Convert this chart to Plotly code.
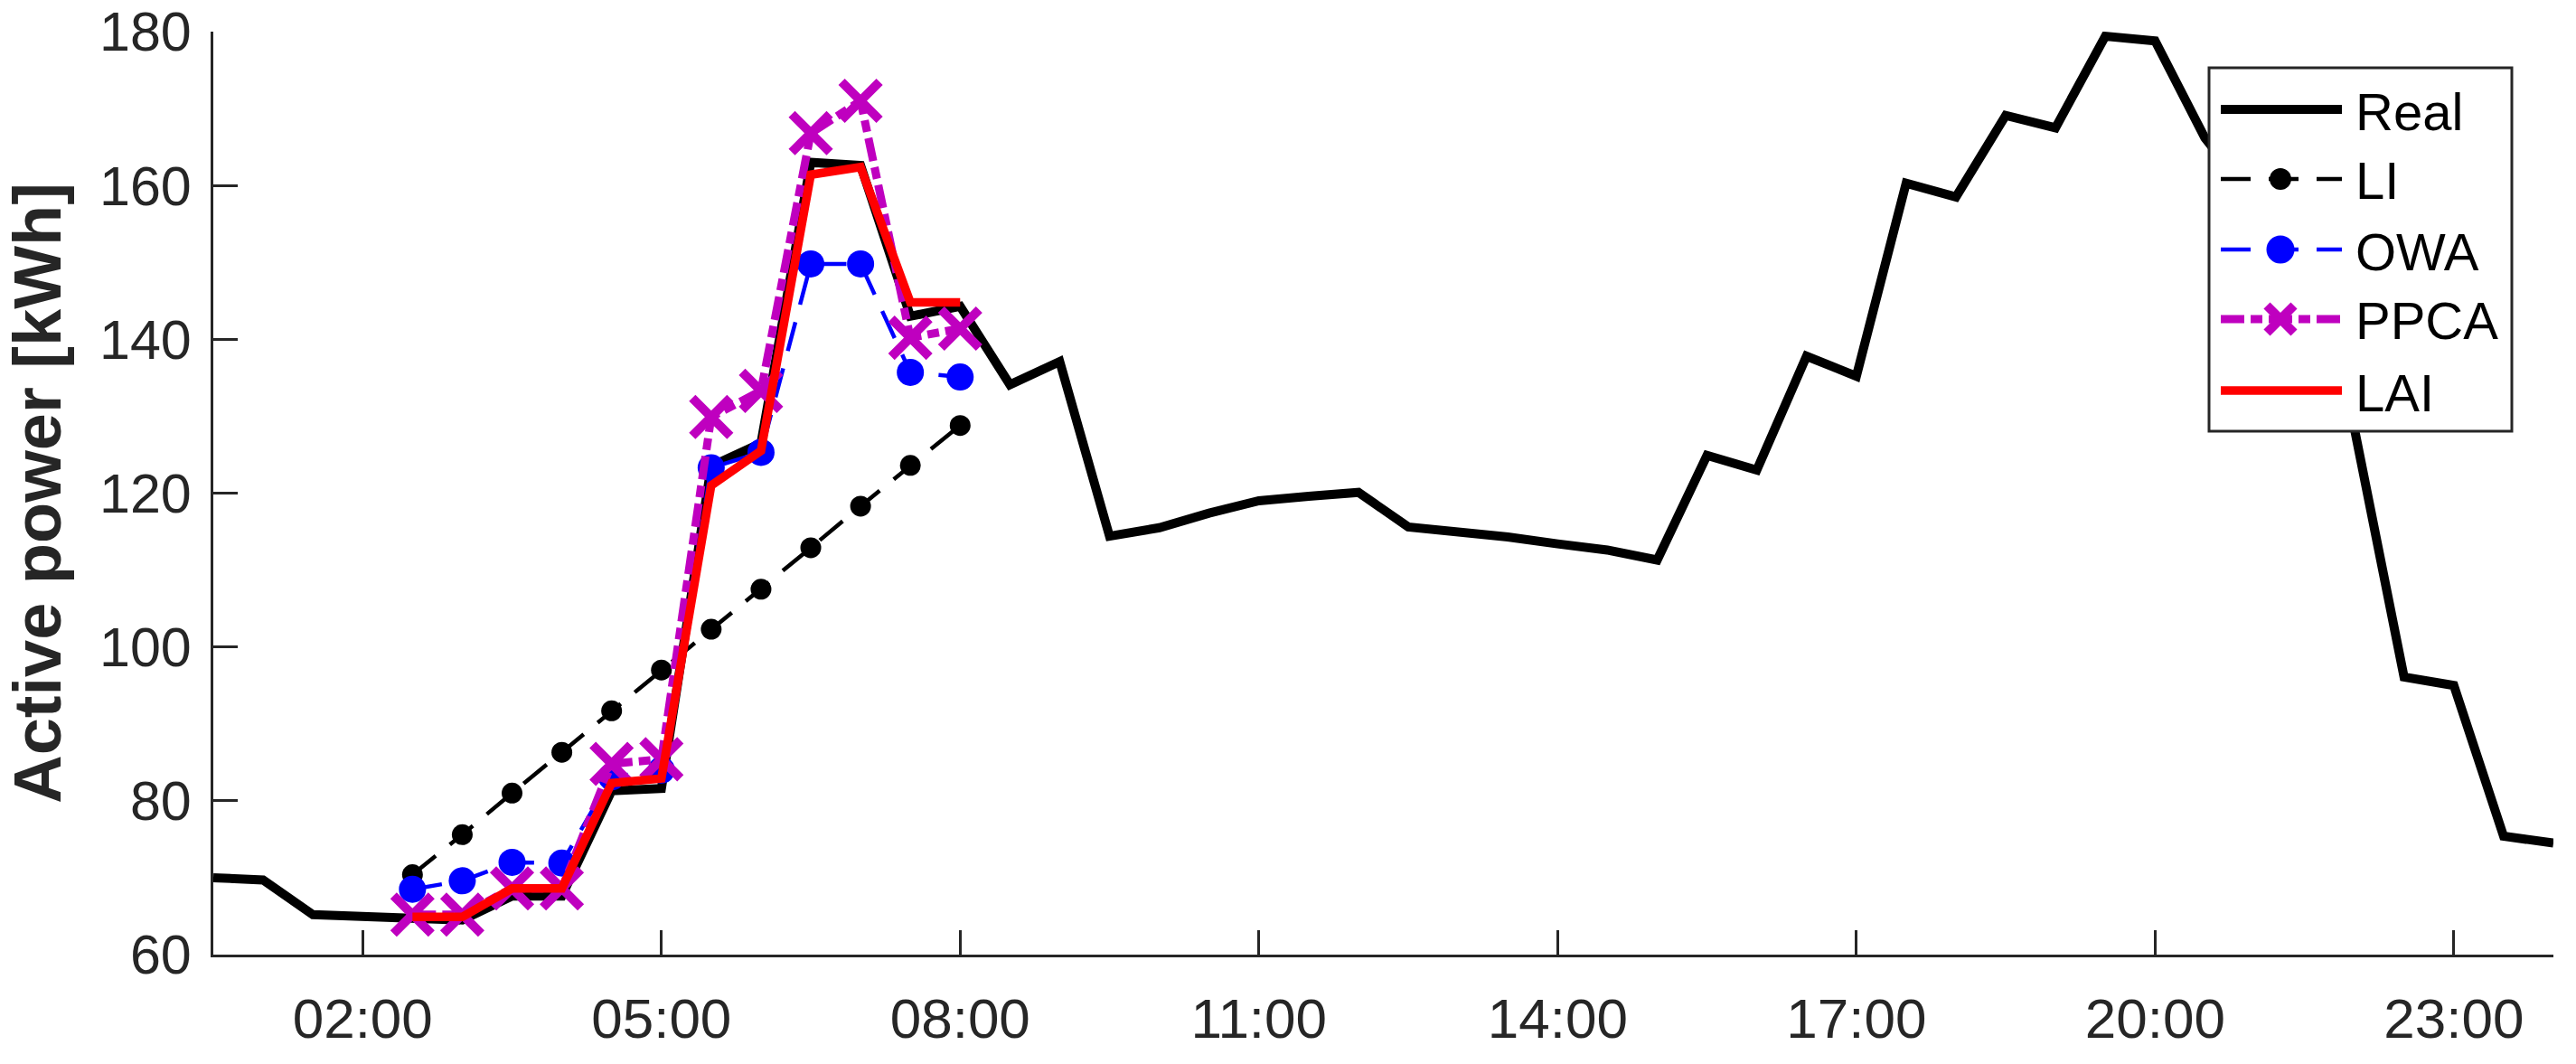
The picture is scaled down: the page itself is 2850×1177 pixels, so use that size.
import pandas as pd
import plotly.graph_objects as go

DAY = "2020-01-01"

# Half-hourly timestamps 00:30 .. 24:00 (48 values)
real_times = pd.date_range(f"{DAY} 00:30", periods=48, freq="30min")
real_values = [
    70.0, 69.7, 65.2, 64.9, 64.6, 64.5, 67.6, 67.6, 81.3, 81.6,
    123.5, 126.5, 163.0, 162.6, 143.0, 144.3, 134.1, 137.1, 114.4, 115.5,
    117.4, 119.0, 119.6, 120.1, 115.6, 115.0, 114.3, 113.4, 112.6, 111.3,
    124.9, 123.0, 137.8, 135.2, 160.3, 158.5, 169.1, 167.5, 179.4, 178.8,
    166.2, 158.0, 145.0, 128.5, 96.1, 95.0, 75.4, 74.5,
]

# Imputed gap 02:30 .. 08:00 (12 values)
gap_times = pd.date_range(f"{DAY} 02:30", periods=12, freq="30min")
li_values = [70.4, 75.6, 81.0, 86.3, 91.7, 97.0, 102.3, 107.5, 112.9, 118.3, 123.6, 128.8]
owa_values = [68.5, 69.6, 72.0, 71.9, 83.1, 84.0, 123.3, 125.3, 149.8, 149.8, 135.7, 135.1]
ppca_values = [65.2, 65.2, 68.6, 68.6, 84.8, 85.4, 129.9, 133.3, 166.8, 171.0, 140.2, 141.4]
lai_values = [64.9, 64.9, 68.6, 68.6, 82.3, 82.9, 121.0, 125.5, 161.4, 162.4, 144.8, 144.8]

series_names = ["Real", "LI", "OWA", "PPCA", "LAI"]
tick_labels = ["02:00", "05:00", "08:00", "11:00", "14:00", "17:00", "20:00", "23:00"]
y_ticks = [60, 80, 100, 120, 140, 160, 180]

FONT = "Liberation Sans, Arial, Helvetica, sans-serif"
AX = "#262626"
MAG = "#BF00BF"

W, H = 2850, 1177
ML, MR, MT, MB = 236, 25, 35, 121
PW, PH = W - ML - MR, H - MT - MB

styles = {
    "Real": dict(color="black", width=10, dash="solid", marker=None),
    "LI": dict(color="black", width=4.5, dash="33px,20px", marker=("circle", 24)),
    "OWA": dict(color="#0000FF", width=4.5, dash="33px,20px", marker=("circle", 31)),
    "PPCA": dict(color=MAG, width=9, dash="26px,7px,13px,7px", marker=("x", 38)),
    "LAI": dict(color="#FF0000", width=9.5, dash="solid", marker=None),
}

fig = go.Figure()
fig.add_trace(go.Scatter(
    x=real_times, y=real_values, name="Real", mode="lines",
    line=dict(color="black", width=10),
))
fig.add_trace(go.Scatter(
    x=gap_times, y=li_values, name="LI", mode="lines+markers",
    line=dict(color="black", width=4.5, dash="33px,20px"),
    marker=dict(symbol="circle", size=23, color="black"),
))
fig.add_trace(go.Scatter(
    x=gap_times, y=owa_values, name="OWA", mode="lines+markers",
    line=dict(color="#0000FF", width=4.5, dash="33px,20px"),
    marker=dict(symbol="circle", size=30, color="#0000FF"),
))
fig.add_trace(go.Scatter(
    x=gap_times, y=ppca_values, name="PPCA", mode="lines+markers",
    line=dict(color=MAG, width=9, dash="26px,7px,13px,7px"),
    marker=dict(symbol="x-thin", size=42, color=MAG,
                line=dict(color=MAG, width=10)),
))
fig.add_trace(go.Scatter(
    x=gap_times, y=lai_values, name="LAI", mode="lines",
    line=dict(color="#FF0000", width=9.5),
))


# ---- legend drawn as paper-space decoration (MATLAB-sized symbols) ----
def px(x):
    return (x - ML) / PW


def py(y):
    return (H - MB - y) / PH


shapes = []
annotations = []
box = dict(x0=2444, x1=2779, y0=75, y1=477)
shapes.append(dict(type="rect", xref="paper", yref="paper", layer="above",
                   x0=px(box["x0"]), x1=px(box["x1"]),
                   y0=py(box["y1"]), y1=py(box["y0"]),
                   fillcolor="white", line=dict(color=AX, width=3)))
row_y = [121, 198, 276, 353, 432]
lx0, lx1, mx, tx = 2457, 2591, 2523, 2604
for name, ry in zip(series_names, row_y):
    st = styles[name]
    shapes.append(dict(type="line", xref="paper", yref="paper", layer="above",
                       x0=px(lx0), x1=px(lx1), y0=py(ry), y1=py(ry),
                       line=dict(color=st["color"], width=st["width"], dash=st["dash"])))
    if st["marker"]:
        sym, d = st["marker"]
        r = d / 2
        if sym == "circle":
            shapes.append(dict(type="circle", xref="paper", yref="paper", layer="above",
                               x0=px(mx - r), x1=px(mx + r), y0=py(ry + r), y1=py(ry - r),
                               fillcolor=st["color"], line=dict(width=0)))
        else:
            a = r - 4
            for sgn in (1, -1):
                shapes.append(dict(type="line", xref="paper", yref="paper", layer="above",
                                   x0=px(mx - a), x1=px(mx + a),
                                   y0=py(ry - sgn * a), y1=py(ry + sgn * a),
                                   line=dict(color=st["color"], width=10)))
    annotations.append(dict(text=name, xref="paper", yref="paper",
                            x=px(tx), y=py(ry + 2), xanchor="left", yanchor="middle",
                            showarrow=False,
                            font=dict(family=FONT, size=58, color="black")))

tick_vals = [pd.Timestamp(f"{DAY} {t}") for t in tick_labels]

fig.update_layout(
    width=W, height=H,
    margin=dict(l=ML, r=MR, t=MT, b=MB),
    paper_bgcolor="white", plot_bgcolor="white",
    font=dict(family=FONT, color=AX),
    showlegend=False,
    shapes=shapes,
    annotations=annotations,
    xaxis=dict(
        type="date", automargin=False,
        range=[pd.Timestamp(f"{DAY} 00:30"), pd.Timestamp("2020-01-02 00:00")],
        tickvals=tick_vals, ticktext=tick_labels,
        showline=True, linecolor=AX, linewidth=3,
        ticks="inside", ticklen=27, tickwidth=3, tickcolor=AX,
        showgrid=False, zeroline=False,
        tickfont=dict(family=FONT, size=62, color=AX),
        ticklabelstandoff=15, ticklabeloverflow="allow",
    ),
    yaxis=dict(
        range=[60, 180], tickvals=y_ticks, automargin=False,
        showline=True, linecolor=AX, linewidth=3,
        ticks="inside", ticklen=27, tickwidth=3, tickcolor=AX,
        showgrid=False, zeroline=False,
        tickfont=dict(family=FONT, size=61, color=AX),
        ticklabelstandoff=9, ticklabeloverflow="allow",
        title=dict(text="<b>Active power [kWh]</b>", standoff=22,
                   font=dict(family=FONT, size=74, color=AX)),
    ),
)

fig.write_html(
    "out.html",
    config={"displayModeBar": False},
    post_script="document.body.style.margin='0';document.body.style.overflow='hidden';",
)
